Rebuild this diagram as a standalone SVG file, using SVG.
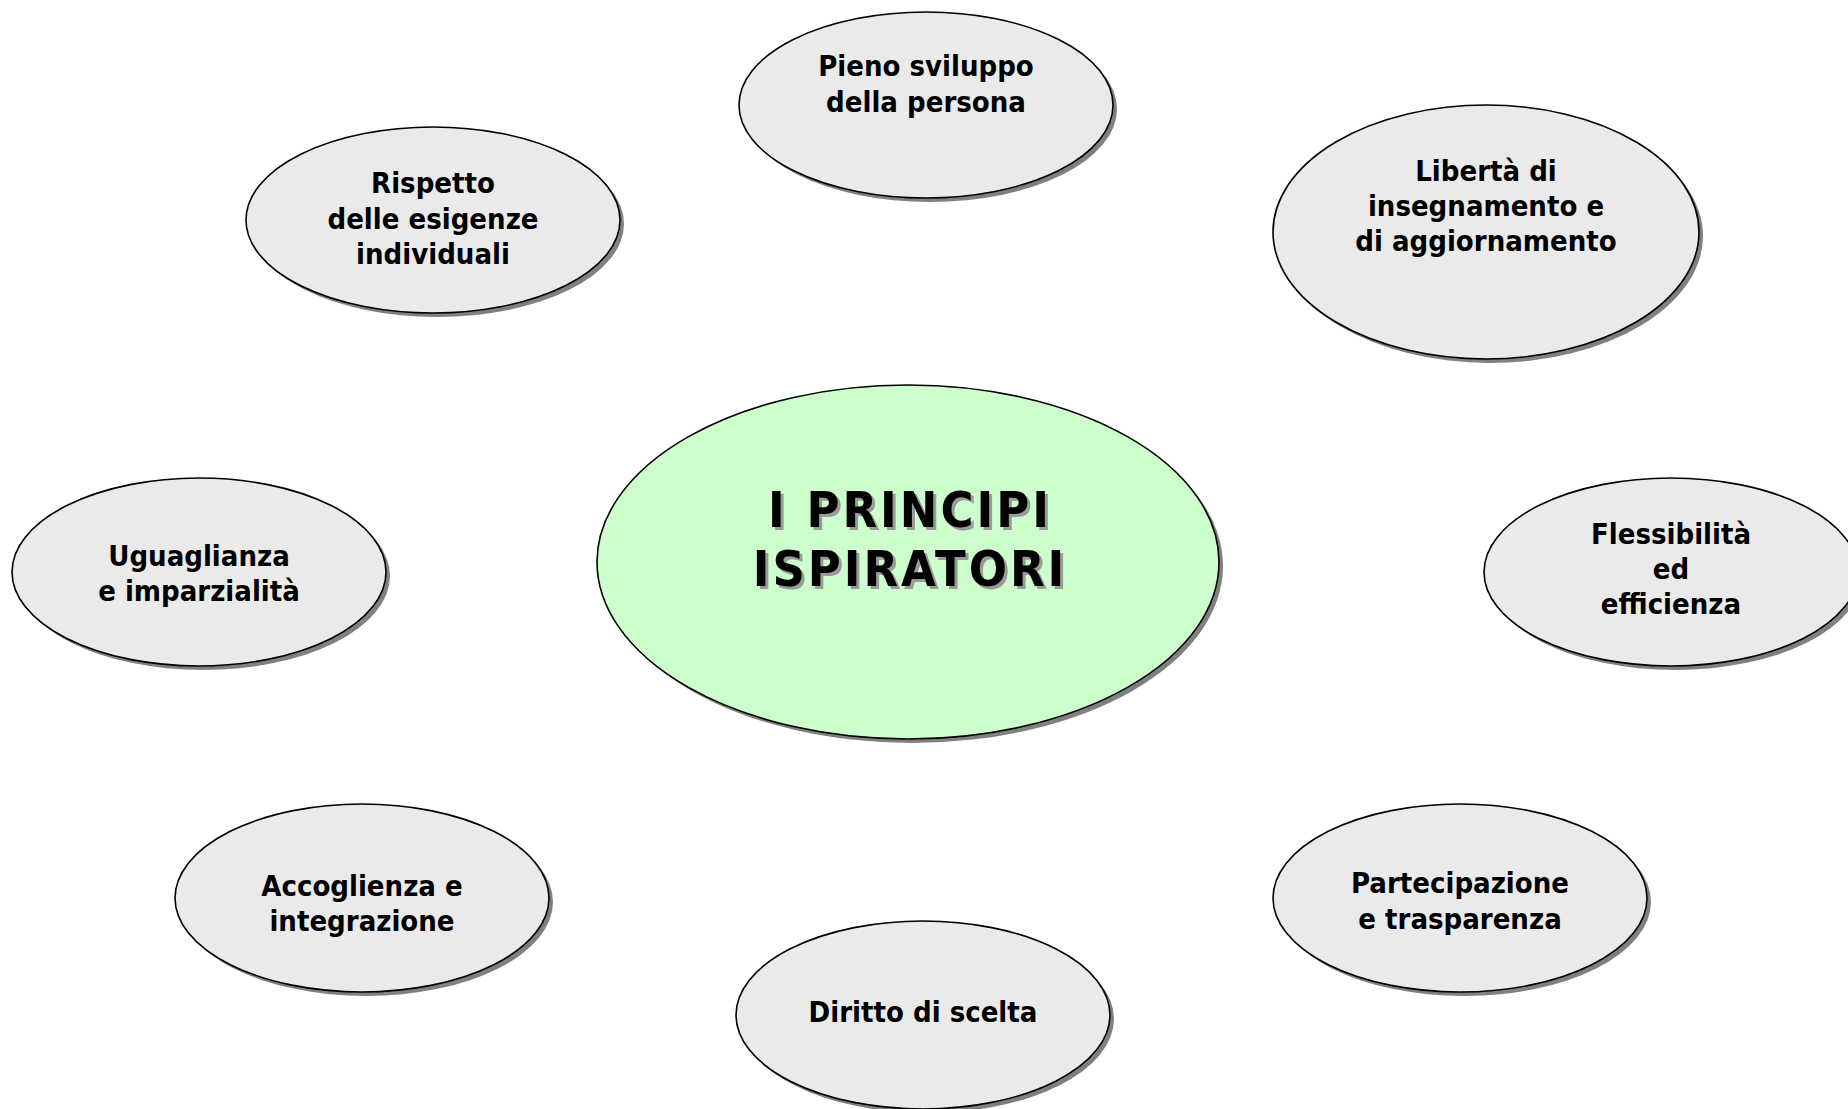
<svg xmlns="http://www.w3.org/2000/svg" width="1848" height="1109" viewBox="0 0 1848 1109">
<defs>
<style>
.bg{fill:#ffffff}
.sh{fill:#808080}
.n{fill:#eaeaea;stroke:#000;stroke-width:1.6}
.c{fill:#ccffcc;stroke:#000;stroke-width:1.6}
.t{font-family:"DejaVu Sans Condensed","DejaVu Sans",sans-serif;font-weight:bold;font-size:29px;fill:#000;text-anchor:middle}
.tt{font-family:"DejaVu Sans Condensed","DejaVu Sans",sans-serif;font-weight:bold;font-size:50px;letter-spacing:3px;text-anchor:middle}
.ts{fill:#9a9a9a}
.tm{fill:#000}
</style>
</defs>
<rect class="bg" width="1848" height="1109"/>
<g id="connectors"/>
<g id="center">
<ellipse class="sh" cx="912" cy="566" rx="311" ry="177"/>
<ellipse class="c" cx="908" cy="562" rx="311" ry="177"/>
<text class="tt ts" x="913" y="530">I PRINCIPI</text>
<text class="tt ts" x="913" y="589">ISPIRATORI</text>
<text class="tt tm" x="910" y="527">I PRINCIPI</text>
<text class="tt tm" x="910" y="586">ISPIRATORI</text>
</g>
<g id="pieno">
<ellipse class="sh" cx="930" cy="109" rx="187" ry="93"/>
<ellipse class="n" cx="926" cy="105" rx="187" ry="93"/>
<text class="t" x="926" y="76">Pieno sviluppo</text>
<text class="t" x="926" y="112">della persona</text>
</g>
<g id="rispetto">
<ellipse class="sh" cx="437" cy="224" rx="187" ry="93"/>
<ellipse class="n" cx="433" cy="220" rx="187" ry="93"/>
<text class="t" x="433" y="193">Rispetto</text>
<text class="t" x="433" y="229">delle esigenze</text>
<text class="t" x="433" y="264">individuali</text>
</g>
<g id="liberta">
<ellipse class="sh" cx="1490" cy="236" rx="213" ry="127"/>
<ellipse class="n" cx="1486" cy="232" rx="213" ry="127"/>
<text class="t" x="1486" y="181">Libertà di</text>
<text class="t" x="1486" y="216">insegnamento e</text>
<text class="t" x="1486" y="251">di aggiornamento</text>
</g>
<g id="uguaglianza">
<ellipse class="sh" cx="203" cy="576" rx="187" ry="94"/>
<ellipse class="n" cx="199" cy="572" rx="187" ry="94"/>
<text class="t" x="199" y="566">Uguaglianza</text>
<text class="t" x="199" y="601">e imparzialità</text>
</g>
<g id="flessibilita">
<ellipse class="sh" cx="1675" cy="576" rx="187" ry="94"/>
<ellipse class="n" cx="1671" cy="572" rx="187" ry="94"/>
<text class="t" x="1671" y="544">Flessibilità</text>
<text class="t" x="1671" y="579">ed</text>
<text class="t" x="1671" y="614">efficienza</text>
</g>
<g id="accoglienza">
<ellipse class="sh" cx="366" cy="902" rx="187" ry="94"/>
<ellipse class="n" cx="362" cy="898" rx="187" ry="94"/>
<text class="t" x="362" y="896">Accoglienza e</text>
<text class="t" x="362" y="931">integrazione</text>
</g>
<g id="partecipazione">
<ellipse class="sh" cx="1464" cy="902" rx="187" ry="94"/>
<ellipse class="n" cx="1460" cy="898" rx="187" ry="94"/>
<text class="t" x="1460" y="893">Partecipazione</text>
<text class="t" x="1460" y="929">e trasparenza</text>
</g>
<g id="diritto">
<ellipse class="sh" cx="927" cy="1019" rx="187" ry="94"/>
<ellipse class="n" cx="923" cy="1015" rx="187" ry="94"/>
<text class="t" x="923" y="1022">Diritto di scelta</text>
</g>
</svg>
